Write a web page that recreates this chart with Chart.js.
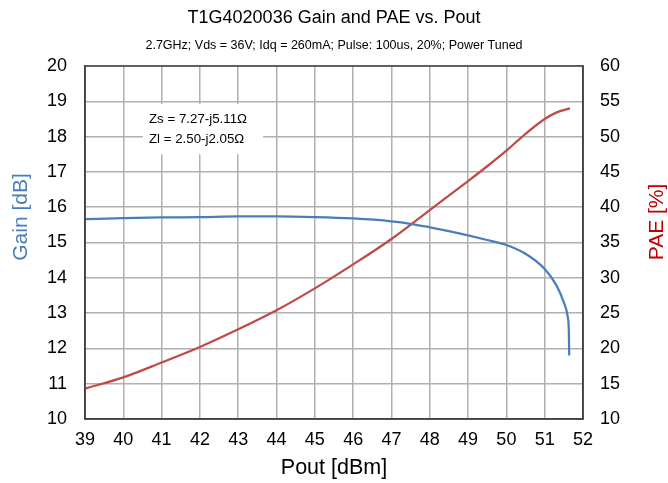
<!DOCTYPE html>
<html>
<head>
<meta charset="utf-8">
<script src="https://cdn.jsdelivr.net/npm/chart.js@4/dist/chart.umd.min.js"></script>
<style>
  body { margin: 0; background: #fff; }
  canvas { display: block; }
</style>
</head>
<body>
<canvas id="chart" width="668" height="483"></canvas>
<script>
// Gain curve (left axis)
const gainPout = [39, 40, 41, 42, 43, 44, 45, 46, 47, 47.5, 48, 48.5, 49, 49.5, 50, 50.5, 51, 51.3, 51.5, 51.6, 51.63, 51.64];
const gainDb   = [15.66, 15.69, 15.71, 15.72, 15.74, 15.74, 15.72, 15.68, 15.6, 15.53, 15.43, 15.32, 15.2, 15.07, 14.93, 14.68, 14.25, 13.8, 13.3, 12.9, 12.5, 11.8];

// PAE curve (right axis)
const paePout = [39, 40, 41, 42, 43, 44, 45, 46, 47, 48, 49, 49.5, 50, 50.5, 51, 51.3, 51.66];
const paePct  = [14.3, 15.9, 18.0, 20.2, 22.7, 25.4, 28.5, 31.9, 35.5, 39.6, 43.7, 45.8, 48.0, 50.4, 52.5, 53.4, 54.0];

const impedances = ['Zs = 7.27-j5.11\u03A9', 'Zl = 2.50-j2.05\u03A9'];

const FONT = "'Liberation Sans', Arial, sans-serif";

function toPoints(xs, ys) {
  return xs.map((x, i) => ({ x: x, y: ys[i] }));
}

function vText(ctx, text, x, y, color) {
  ctx.save();
  ctx.translate(x, y);
  ctx.rotate(-Math.PI / 2);
  ctx.fillStyle = color;
  ctx.font = '21px ' + FONT;
  ctx.textAlign = 'center';
  ctx.textBaseline = 'middle';
  ctx.fillText(text, 0, 0);
  ctx.restore();
}

// white box with the impedance text, anchored to data coords, plus frame and side titles
const notePlugin = {
  id: 'note',
  beforeDatasetsDraw(chart) {
    const ctx = chart.ctx;
    const xs = chart.scales.x, ys = chart.scales.y;
    const l = xs.getPixelForValue(40.51), r = xs.getPixelForValue(43.65);
    const t = ys.getPixelForValue(18.92), b = ys.getPixelForValue(17.5);
    ctx.save();
    ctx.fillStyle = '#fff';
    ctx.fillRect(l, t, r - l, b - t);
    ctx.fillStyle = '#000';
    ctx.font = '13.3px ' + FONT;
    ctx.textBaseline = 'middle';
    ctx.textAlign = 'left';
    const tx = xs.getPixelForValue(40.67);
    ctx.fillText(impedances[0], tx, ys.getPixelForValue(18.49));
    ctx.fillText(impedances[1], tx, ys.getPixelForValue(17.92));
    ctx.restore();
  },
  afterDraw(chart) {
    const a = chart.chartArea, ctx = chart.ctx;
    ctx.save();
    ctx.strokeStyle = '#404040';
    ctx.lineWidth = 1.5;
    ctx.strokeRect(a.left, a.top, a.right - a.left, a.bottom - a.top);
    ctx.restore();
    vText(ctx, 'Gain [dB]', 21, 217, '#4a7ebb');
    vText(ctx, 'PAE [%]', 657, 222, '#c00000');
  }
};

new Chart(document.getElementById('chart'), {
  type: 'line',
  data: {
    datasets: [
      {
        label: 'Gain',
        data: toPoints(gainPout, gainDb),
        borderColor: '#4a7ebb',
        borderWidth: 2.25,
        pointRadius: 0,
        cubicInterpolationMode: 'monotone',
        yAxisID: 'y'
      },
      {
        label: 'PAE',
        data: toPoints(paePout, paePct),
        borderColor: '#be4b48',
        borderWidth: 2.25,
        pointRadius: 0,
        cubicInterpolationMode: 'monotone',
        yAxisID: 'y2'
      }
    ]
  },
  options: {
    responsive: false,
    animation: false,
    layout: { padding: 0 },
    plugins: {
      legend: { display: false },
      tooltip: { enabled: false },
      title: {
        display: true,
        text: 'T1G4020036 Gain and PAE vs. Pout',
        color: '#000',
        font: { family: FONT, size: 18, weight: 'normal' },
        padding: { top: 6.8, bottom: 6 }
      },
      subtitle: {
        display: true,
        text: '2.7GHz; Vds = 36V; Idq = 260mA; Pulse: 100us, 20%; Power Tuned',
        color: '#000',
        font: { family: FONT, size: 12.5 },
        padding: { top: 3.9, bottom: 12.7 }
      }
    },
    scales: {
      x: {
        type: 'linear',
        min: 39, max: 52,
        afterFit: s => { s.height = 64; },
        ticks: { stepSize: 1, color: '#000', font: { family: FONT, size: 18 }, padding: 10, maxRotation: 0, autoSkip: false },
        grid: { color: '#b0b0b0', lineWidth: 1.5, drawTicks: false },
        border: { color: '#404040', width: 1.5 },
        title: { display: true, text: 'Pout [dBm]', color: '#000', font: { family: FONT, size: 21.5 }, padding: { top: 0, bottom: 2 } }
      },
      y: {
        position: 'left',
        min: 10, max: 20,
        afterFit: s => { s.width = 85; },
        ticks: { stepSize: 1, color: '#000', font: { family: FONT, size: 18 }, padding: 18 },
        grid: { color: '#b0b0b0', lineWidth: 1.5, drawTicks: false },
        border: { color: '#404040', width: 1.5 }
      },
      y2: {
        position: 'right',
        min: 10, max: 60,
        afterFit: s => { s.width = 85; },
        ticks: { stepSize: 5, color: '#000', font: { family: FONT, size: 18 }, padding: 17 },
        grid: { display: false, drawTicks: false },
        border: { color: '#404040', width: 1.5 }
      }
    }
  },
  plugins: [notePlugin]
});
</script>
</body>
</html>
